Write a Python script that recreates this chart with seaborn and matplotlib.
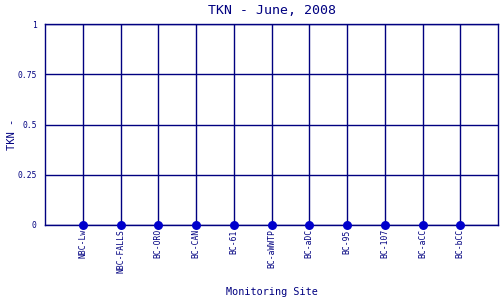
import matplotlib
matplotlib.use("Agg")
import matplotlib.pyplot as plt
import seaborn as sns
import pandas as pd

sites = ["NBC-Lw", "NBC-FALLS", "BC-ORO", "BC-CAN", "BC-61", "BC-aWWTP",
         "BC-aDC", "BC-95", "BC-107", "BC-aCC", "BC-bCC"]
tkn = [0, 0, 0, 0, 0, 0, 0, 0, 0, 0, 0]
yticks = [0, 0.25, 0.5, 0.75, 1]
yticklabels = ["0", "0.25", "0.5", "0.75", "1"]

sns.set_style("white")
plt.rcParams['font.family'] = ['DejaVu Sans Mono', 'DejaVu Sans']

navy = "#000080"
df = pd.DataFrame({"site": sites, "tkn": tkn})

fig = plt.figure(figsize=(5, 3), dpi=100)
ax = fig.add_axes([0.09, 0.25, 0.906, 0.67])
sns.scatterplot(data=df, x="site", y="tkn", ax=ax, color="#0000cc",
                s=42, edgecolor="#0000cc", linewidth=0, zorder=5, clip_on=False)

ax.set_xlim(-1, len(sites))
ax.set_ylim(0, 1)
ax.set_yticks(yticks)
ax.set_yticklabels(yticklabels)
ax.set_xticks(range(len(sites)))
ax.set_xticklabels(sites, rotation=90, va="top", ha="center")
ax.grid(True, color=navy, linewidth=1)
ax.set_axisbelow(True)
for sp in ax.spines.values():
    sp.set_color(navy)
    sp.set_linewidth(1)
ax.tick_params(axis="both", length=0, colors=navy, labelsize=5.8, pad=3)
ax.tick_params(axis="y", pad=6)
ax.set_title("TKN - June, 2008", color=navy, fontsize=9.5, pad=7)
ax.set_xlabel("Monitoring Site", color=navy, fontsize=7.3, labelpad=10)
ax.set_ylabel("TKN -", color=navy, fontsize=7.5, va="center")
ax.yaxis.set_label_coords(-0.072, 0.45)

fig.savefig("out.png", dpi=100)
